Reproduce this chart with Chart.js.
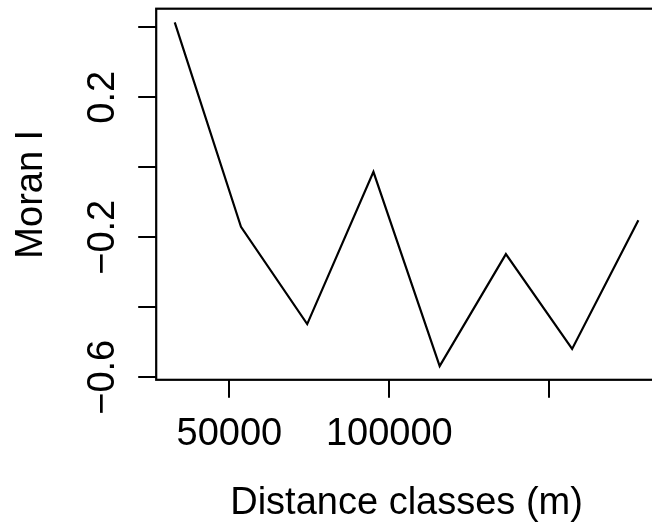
<!DOCTYPE html>
<html>
<head>
<meta charset="utf-8">
<script src="https://cdn.jsdelivr.net/npm/chart.js@4/dist/chart.umd.min.js"></script>
<style>
  html, body { margin: 0; padding: 0; background: #fff; overflow: hidden; }
</style>
</head>
<body>
<canvas id="moran-plot" width="662" height="528"></canvas>
<script>
// correlogram values
const distance = [32938, 53638, 74338, 95038, 115738, 136438, 157138, 177838];
const moranI = [0.414, -0.170, -0.448, -0.013, -0.568, -0.248, -0.519, -0.151];

const xTicks = [50000, 100000, 150000];
const xTickLabels = ["50000", "100000", ""];
const yTicks = [-0.6, -0.4, -0.2, 0, 0.2, 0.4];
const yTickLabels = ["\u22120.6", "", "\u22120.2", "", "0.2", ""];

const xTitle = "Distance classes (m)";
const yTitle = "Moran I";

const FONT = '38px "Liberation Sans", Arial, sans-serif';

// R style axis range: data range stretched by 4% on both sides
const rRange = (arr) => {
  const lo = Math.min(...arr);
  const hi = Math.max(...arr);
  const d = (hi - lo) * 0.04;
  return [lo - d, hi + d];
};
const [xMin, xMax] = rRange(distance);
const [yMin, yMax] = rRange(moranI);

const basePlot = {
  id: "basePlot",
  afterDraw(chart) {
    const { ctx, chartArea: a, scales } = chart;
    ctx.save();
    ctx.strokeStyle = "#000";
    ctx.lineWidth = 2.2;
    ctx.strokeRect(a.left, a.top, a.right - a.left, a.bottom - a.top);

    ctx.fillStyle = "#000";
    ctx.font = FONT;
    ctx.textAlign = "center";
    ctx.textBaseline = "alphabetic";

    xTicks.forEach((v, i) => {
      if (xTickLabels[i]) ctx.fillText(xTickLabels[i], scales.x.getPixelForValue(v), 445);
    });
    ctx.fillText(xTitle, (a.left + a.right) / 2, 514);

    yTicks.forEach((v, i) => {
      if (!yTickLabels[i]) return;
      ctx.save();
      ctx.translate(113.5, scales.y.getPixelForValue(v));
      ctx.rotate(-Math.PI / 2);
      ctx.fillText(yTickLabels[i], 0, 0);
      ctx.restore();
    });

    ctx.save();
    ctx.translate(41.5, (a.top + a.bottom) / 2);
    ctx.rotate(-Math.PI / 2);
    ctx.fillText(yTitle, 0, 0);
    ctx.restore();
    ctx.restore();
  }
};

const tickMarks = {
  drawOnChartArea: false,
  drawTicks: true,
  tickLength: 18,
  color: "#000",
  lineWidth: 2
};

new Chart(document.getElementById("moran-plot"), {
  type: "line",
  data: {
    datasets: [{
      data: distance.map((d, i) => ({ x: d, y: moranI[i] })),
      borderColor: "#000",
      borderWidth: 2.2,
      pointRadius: 0,
      tension: 0,
      fill: false
    }]
  },
  options: {
    responsive: false,
    animation: false,
    devicePixelRatio: 1,
    layout: { padding: { top: 8.7, right: 5.1, left: 0, bottom: 0 } },
    plugins: { legend: { display: false }, tooltip: { enabled: false } },
    scales: {
      x: {
        type: "linear",
        min: xMin,
        max: xMax,
        grid: tickMarks,
        border: { display: false },
        ticks: { display: false },
        afterBuildTicks: (s) => { s.ticks = xTicks.map((v) => ({ value: v })); },
        afterFit: (s) => { s.height = 148.2; }
      },
      y: {
        type: "linear",
        min: yMin,
        max: yMax,
        grid: tickMarks,
        border: { display: false },
        ticks: { display: false },
        afterBuildTicks: (s) => { s.ticks = yTicks.map((v) => ({ value: v })); },
        afterFit: (s) => { s.width = 156.2; }
      }
    }
  },
  plugins: [basePlot]
});
</script>
</body>
</html>
